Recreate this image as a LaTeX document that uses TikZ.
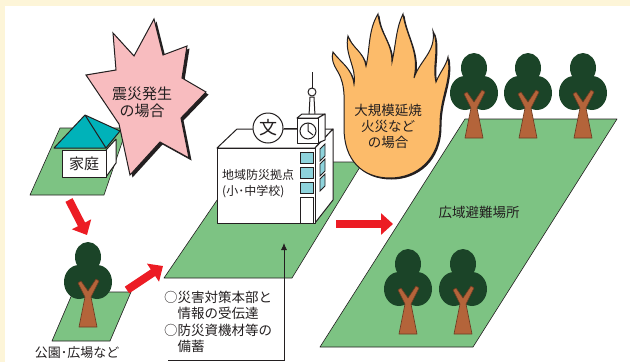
\documentclass[tikz,border=0pt]{standalone}
\usepackage{fontspec}
\setmainfont{Noto Sans CJK JP}
\usetikzlibrary{arrows.meta}

\definecolor{cream}{HTML}{FDF5D8}
\definecolor{lawn}{HTML}{7DC383}
\definecolor{quakepink}{HTML}{F8BCBF}
\definecolor{roofteal}{HTML}{00B2B9}
\definecolor{leaf}{HTML}{1B4428}
\definecolor{bark}{HTML}{B4643A}
\definecolor{glass}{HTML}{8ED3DC}
\definecolor{flame}{HTML}{FCBB6A}
\definecolor{arrowred}{HTML}{EC1C24}
\definecolor{ink}{HTML}{231F20}

\tikzset{
  grass/.style={fill=lawn, draw=ink, line width=0.6pt, line join=round},
  wall/.style={fill=white, draw=ink, line width=1pt, line join=round},
  pane/.style={fill=glass, draw=ink, line width=0.8pt},
  label/.style={text=ink, inner sep=0pt, align=center},
  redarrow/.style={draw=arrowred, line width=8pt, -{Triangle[length=12pt,width=21pt]}},
  tree/.pic={
    \fill[leaf] (-9,-45) ellipse (15 and 17)
                (9,-45) ellipse (15 and 17)
                (0,-70) ellipse (13 and 15);
    \filldraw[fill=bark, draw=bark!60!black, line width=0.6pt, line join=round]
      (-9,0) -- (-3,-30) -- (-10,-44) -- (-7,-46) -- (0,-36)
      -- (8,-48) -- (11,-46) -- (3,-30) -- (9,0) -- cycle;
  }
}

\begin{document}
\begin{tikzpicture}[x=1pt, y=-1pt]
\useasboundingbox (0,0) rectangle (630,362);
\fill[cream] (0,0) rectangle (630,362);
\fill[white] (5,6) rectangle (630,362);

% grounds
\filldraw[grass] (30,195) -- (104,195) -- (127,128) -- (60,128) -- cycle;
\filldraw[grass] (52,341) -- (110,341) -- (131,292) -- (73,292) -- cycle;
\filldraw[grass] (164,278) -- (292,278) -- (363,162) -- (243,162) -- cycle;
\filldraw[grass] (320,347) -- (473,347) -- (617,119) -- (465,119) -- cycle;

% quake star
\filldraw[fill=quakepink, draw=ink, line width=1pt, line join=miter,
  preaction={fill=ink, transform canvas={xshift=2.5pt, yshift=-2.5pt}}]
  (154,19) -- (163,55) -- (187,46) -- (182,78) -- (206,92) -- (181,118)
  -- (189,158) -- (160,142) -- (130,175) -- (119,124) -- (86,75)
  -- (116,70) -- (113,33) -- (134,56) -- cycle;
\node[label, font=\fontsize{15}{17}\selectfont] (quake) at (142,102) {震災発生\\の場合};

% home
\filldraw[wall] (106,150) -- (116,139) -- (116,163) -- (106,177) -- cycle;
\filldraw[wall] (62,150) rectangle (106,177);
\filldraw[fill=roofteal, draw=ink, line width=1pt, line join=round]
  (85,115) -- (54,148) -- (106,148) -- cycle
  (85,115) -- (120,131) -- (106,148) -- cycle;
\node[label, font=\fontsize{15}{17}\selectfont] (home) at (84,164) {家庭};

% fire
\filldraw[fill=flame, draw=ink, line width=1pt,
  preaction={fill=ink, transform canvas={xshift=1.5pt, yshift=-1.5pt}}]
  (390,178) .. controls (362,178) and (344,160) .. (344,128)
  .. controls (344,100) and (346,86) .. (338,72)
  .. controls (333,64) and (331,58) .. (333,52)
  .. controls (340,62) and (352,68) .. (354,84)
  .. controls (357,68) and (344,54) .. (348,36)
  .. controls (352,48) and (364,52) .. (366,66)
  .. controls (370,50) and (368,30) .. (378,14)
  .. controls (380,34) and (392,42) .. (392,62)
  .. controls (396,44) and (396,28) .. (403,14)
  .. controls (406,36) and (420,52) .. (414,78)
  .. controls (420,60) and (436,52) .. (433,31)
  .. controls (440,46) and (432,66) .. (436,82)
  .. controls (440,72) and (446,66) .. (448,57)
  .. controls (452,82) and (440,96) .. (440,125)
  .. controls (440,160) and (416,178) .. (390,178) -- cycle;
\node[label, font=\fontsize{13.5}{16}\selectfont] (fire) at (388,126) {大規模延焼\\火災など\\の場合};

% school
\filldraw[wall] (217,148) -- (237,129) -- (333,129) -- (315,148) -- cycle;
\filldraw[wall] (315,148) -- (333,129) -- (333,200) -- (315,223) -- cycle;
\filldraw[wall] (217,148) rectangle (315,223);
\foreach \y in {152,167,182} {
  \filldraw[pane] (300,\y) rectangle (313,\y+11);
  \filldraw[pane] (320,\y-3) -- (325,\y-8) -- (325,\y+4) -- (320,\y+9) -- cycle;
}
\draw[ink, line width=0.8pt] (300,197) rectangle (313,223);
\node[label, align=left, anchor=west, font=\fontsize{12}{16}\selectfont] (school) at (222,184)
  {地域防災拠点\\(小･中学校)};

% clock tower
\filldraw[wall] (309,116) -- (310,97) -- (314,97) -- (315,116) -- cycle;
\filldraw[wall] (312,92) circle (4);
\draw[ink, line width=1pt] (312,88) -- (312,72);
\filldraw[wall] (297,118) -- (302,114) -- (325,114) -- (318,118) -- cycle;
\filldraw[wall] (318,118) -- (325,114) -- (325,140) -- (318,143) -- cycle;
\filldraw[wall] (297,118) rectangle (318,143);
\draw[ink, line width=1pt] (308,131) circle (8);
\draw[ink, line width=1pt] (308,123) -- (308,131) -- (313,135);
\coordinate (clockbox) at (297,128);
\node[wall, circle, minimum size=30pt, inner sep=0pt, text=ink,
  font=\fontsize{18}{18}\selectfont] (bun) at (268,128) {文};
\draw[ink, line width=1pt] (bun) -- (clockbox);

% trees
\pic at (88,327) {tree};
\foreach \x in {474,528,583} \pic at (\x,138) {tree};
\foreach \x in {408,463} \pic at (\x,334) {tree};

% arrows
\coordinate (a1) at (69,200);  \coordinate (b1) at (87,235);
\coordinate (a2) at (127,290); \coordinate (b2) at (163,266);
\coordinate (a3) at (336,224); \coordinate (b3) at (393,224);
\draw[redarrow] (a1) -- (b1);
\draw[redarrow] (a2) -- (b2);
\draw[redarrow] (a3) -- (b3);

% notes with leader
\node[label, align=left, anchor=north west, font=\fontsize{13.5}{16.3}\selectfont] (notes) at (164,291)
  {○災害対策本部と\\\hphantom{○}情報の受伝達\\○防災資機材等の\\\hphantom{○}備蓄};
\coordinate (lead) at (168,360);
\coordinate (target) at (284,243);
\draw[ink, line width=0.8pt, -{Latex[length=7pt,width=6pt]}] (lead) -| (target);

\node[label, font=\fontsize{13}{15}\selectfont] (park) at (77,353) {公園･広場など};
\node[label, font=\fontsize{13.5}{16}\selectfont] (site) at (479,212) {広域避難場所};
\end{tikzpicture}
\end{document}
